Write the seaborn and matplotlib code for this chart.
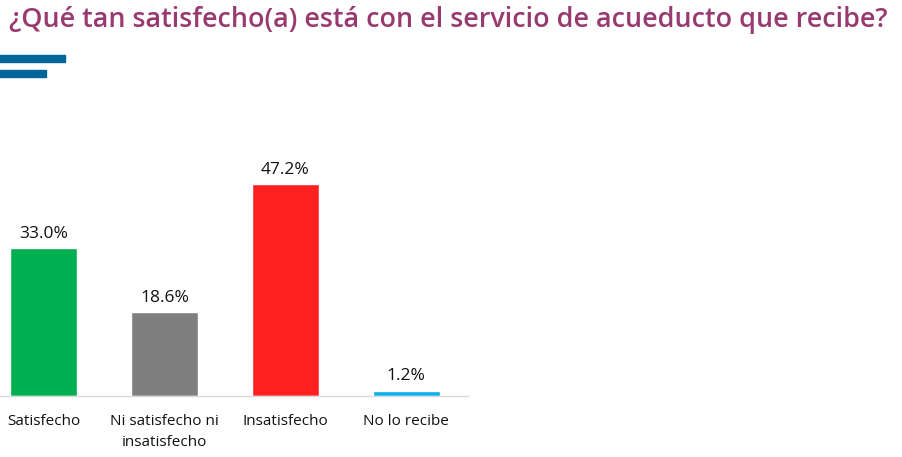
import matplotlib
matplotlib.use("Agg")
import matplotlib.pyplot as plt
import seaborn as sns
import pandas as pd
from matplotlib.patches import Rectangle

categories = ["Satisfecho", "Ni satisfecho ni\ninsatisfecho", "Insatisfecho", "No lo recibe"]
values = [33.0, 18.6, 47.2, 1.2]
colors = ["#00B050", "#7F7F7F", "#FF2020", "#00B0F0"]
title = "¿Qué tan satisfecho(a) está con el servicio de acueducto que recibe?"

sns.set_theme(style="white")
plt.rcParams['font.family'] = ['Open Sans', 'DejaVu Sans']

fig = plt.figure(figsize=(9.03, 4.57), dpi=100)
W, H = 903, 457
ax = fig.add_axes([0, (H - 396) / H, 468 / W, (396 - 171.5) / H])

df = pd.DataFrame({"cat": categories, "val": values})
sns.barplot(data=df, x="cat", y="val", hue="cat", palette=colors, width=0.554,
            legend=False, ax=ax, saturation=1)

ax.set_xlim(-0.36, 3.51)
ax.set_ylim(0, 50)
for i, v in enumerate(values):
    ax.text(i, v + 1.4, f"{v:.1f}%", ha="center", va="bottom", fontsize=12.5,
            color="#111111", clip_on=False)

ax.set_xlabel("")
ax.set_ylabel("")
ax.set_yticks([])
ax.tick_params(axis="x", length=0, pad=13, labelsize=11, labelcolor="#111111")
for lbl in ax.get_xticklabels():
    lbl.set_linespacing(1.5)
for s in ["top", "right", "left"]:
    ax.spines[s].set_visible(False)
ax.spines["bottom"].set_color("#D9D9D9")
ax.spines["bottom"].set_linewidth(1.0)
ax.set_facecolor("none")

fig.text(9 / W, 1 - 20 / H, title, ha="left", va="center", fontsize=19.4,
         fontweight="semibold", color="#983A6F")

fig.patches.append(Rectangle((0, 1 - 62 / H), 65 / W, 7 / H, transform=fig.transFigure,
                             color="#006699", zorder=5))
fig.patches.append(Rectangle((0, 1 - 77 / H), 46 / W, 7 / H, transform=fig.transFigure,
                             color="#006699", zorder=5))

fig.savefig("out.png", dpi=100)
